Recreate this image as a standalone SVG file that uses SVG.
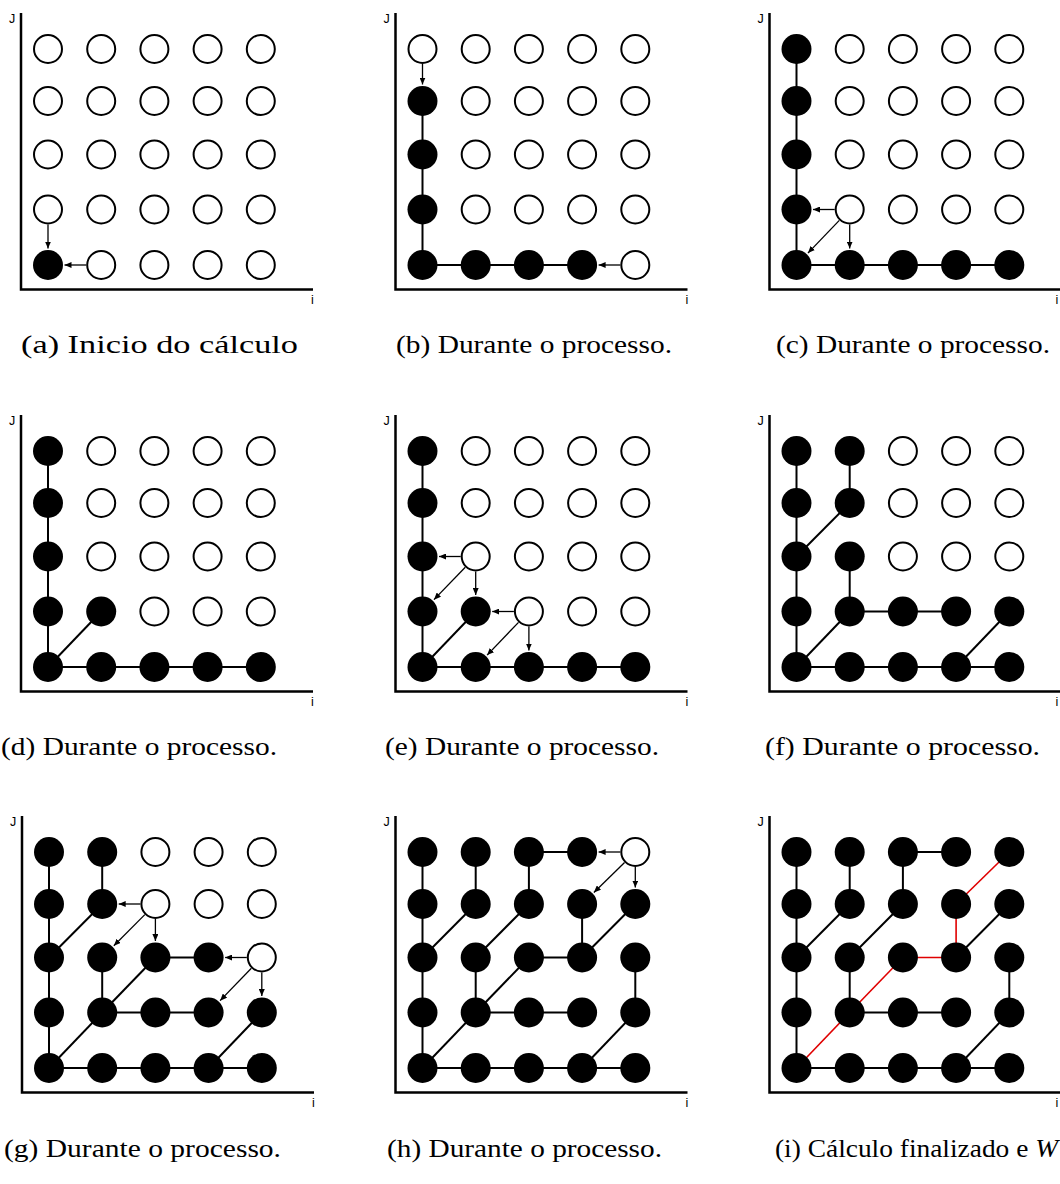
<svg xmlns="http://www.w3.org/2000/svg" xmlns:xlink="http://www.w3.org/1999/xlink" width="1060" height="1184" viewBox="0 0 1060 1184">
<defs>
<marker id="ah" markerUnits="userSpaceOnUse" markerWidth="8" markerHeight="6" refX="7" refY="3" orient="auto">
<path d="M0,0 L7,3 L0,6 z" fill="#000"/>
</marker>
<style>
.o{fill:#fff;stroke:#000;stroke-width:2}
.f{fill:#000}
.ax{fill:none;stroke:#000;stroke-width:2.5}
.e line{stroke:#000;stroke-width:2}
.e line.r{stroke:#e00000;stroke-width:1.6}
.ar line{stroke:#000;stroke-width:1.3;marker-end:url(#ah)}
.lb{font-family:"Liberation Sans",Arial,sans-serif;font-size:12.5px;fill:#000}
.cap{font-family:"Liberation Serif","Times New Roman",serif;font-size:26px;fill:#000}
</style>
</defs>
<rect width="1060" height="1184" fill="#fff"/>

<!-- Panel a -->
<g id="panel-a">
<path class="ax" d="M21,13 V289.5 H313"/>
<text class="lb" x="9" y="23">J</text><text class="lb" x="311" y="304">i</text>
<g id="a-connectors"><g class="ar">
<line x1="48" y1="224.5" x2="48" y2="248.5"/>
<line x1="86.2" y1="265" x2="64.5" y2="265"/>
</g></g>
<g id="a-c0r0"><circle class="f" cx="48" cy="265" r="15"/></g>
<g id="a-c1r0"><circle class="o" cx="101.2" cy="265" r="14"/></g>
<g id="a-c2r0"><circle class="o" cx="154.4" cy="265" r="14"/></g>
<g id="a-c3r0"><circle class="o" cx="207.6" cy="265" r="14"/></g>
<g id="a-c4r0"><circle class="o" cx="260.8" cy="265" r="14"/></g>
<g id="a-c0r1"><circle class="o" cx="48" cy="209.5" r="14"/></g>
<g id="a-c1r1"><circle class="o" cx="101.2" cy="209.5" r="14"/></g>
<g id="a-c2r1"><circle class="o" cx="154.4" cy="209.5" r="14"/></g>
<g id="a-c3r1"><circle class="o" cx="207.6" cy="209.5" r="14"/></g>
<g id="a-c4r1"><circle class="o" cx="260.8" cy="209.5" r="14"/></g>
<g id="a-c0r2"><circle class="o" cx="48" cy="154.5" r="14"/></g>
<g id="a-c1r2"><circle class="o" cx="101.2" cy="154.5" r="14"/></g>
<g id="a-c2r2"><circle class="o" cx="154.4" cy="154.5" r="14"/></g>
<g id="a-c3r2"><circle class="o" cx="207.6" cy="154.5" r="14"/></g>
<g id="a-c4r2"><circle class="o" cx="260.8" cy="154.5" r="14"/></g>
<g id="a-c0r3"><circle class="o" cx="48" cy="101" r="14"/></g>
<g id="a-c1r3"><circle class="o" cx="101.2" cy="101" r="14"/></g>
<g id="a-c2r3"><circle class="o" cx="154.4" cy="101" r="14"/></g>
<g id="a-c3r3"><circle class="o" cx="207.6" cy="101" r="14"/></g>
<g id="a-c4r3"><circle class="o" cx="260.8" cy="101" r="14"/></g>
<g id="a-c0r4"><circle class="o" cx="48" cy="49" r="14"/></g>
<g id="a-c1r4"><circle class="o" cx="101.2" cy="49" r="14"/></g>
<g id="a-c2r4"><circle class="o" cx="154.4" cy="49" r="14"/></g>
<g id="a-c3r4"><circle class="o" cx="207.6" cy="49" r="14"/></g>
<g id="a-c4r4"><circle class="o" cx="260.8" cy="49" r="14"/></g>
</g>

<!-- Panel b -->
<g id="panel-b" transform="translate(374.5,0)">
<path class="ax" d="M21,13 V289.5 H313"/>
<text class="lb" x="9" y="23">J</text><text class="lb" x="311" y="304">i</text>
<g id="b-connectors">
<g class="e">
<line x1="48" y1="265" x2="48" y2="101"/>
<line x1="48" y1="265" x2="207.6" y2="265"/>
</g>
<g class="ar">
<line x1="48" y1="64" x2="48" y2="84.5"/>
<line x1="245.8" y1="265" x2="224.1" y2="265"/>
</g></g>
<g id="b-c0r0"><circle class="f" cx="48" cy="265" r="15"/></g>
<g id="b-c1r0"><circle class="f" cx="101.2" cy="265" r="15"/></g>
<g id="b-c2r0"><circle class="f" cx="154.4" cy="265" r="15"/></g>
<g id="b-c3r0"><circle class="f" cx="207.6" cy="265" r="15"/></g>
<g id="b-c4r0"><circle class="o" cx="260.8" cy="265" r="14"/></g>
<g id="b-c0r1"><circle class="f" cx="48" cy="209.5" r="15"/></g>
<g id="b-c1r1"><circle class="o" cx="101.2" cy="209.5" r="14"/></g>
<g id="b-c2r1"><circle class="o" cx="154.4" cy="209.5" r="14"/></g>
<g id="b-c3r1"><circle class="o" cx="207.6" cy="209.5" r="14"/></g>
<g id="b-c4r1"><circle class="o" cx="260.8" cy="209.5" r="14"/></g>
<g id="b-c0r2"><circle class="f" cx="48" cy="154.5" r="15"/></g>
<g id="b-c1r2"><circle class="o" cx="101.2" cy="154.5" r="14"/></g>
<g id="b-c2r2"><circle class="o" cx="154.4" cy="154.5" r="14"/></g>
<g id="b-c3r2"><circle class="o" cx="207.6" cy="154.5" r="14"/></g>
<g id="b-c4r2"><circle class="o" cx="260.8" cy="154.5" r="14"/></g>
<g id="b-c0r3"><circle class="f" cx="48" cy="101" r="15"/></g>
<g id="b-c1r3"><circle class="o" cx="101.2" cy="101" r="14"/></g>
<g id="b-c2r3"><circle class="o" cx="154.4" cy="101" r="14"/></g>
<g id="b-c3r3"><circle class="o" cx="207.6" cy="101" r="14"/></g>
<g id="b-c4r3"><circle class="o" cx="260.8" cy="101" r="14"/></g>
<g id="b-c0r4"><circle class="o" cx="48" cy="49" r="14"/></g>
<g id="b-c1r4"><circle class="o" cx="101.2" cy="49" r="14"/></g>
<g id="b-c2r4"><circle class="o" cx="154.4" cy="49" r="14"/></g>
<g id="b-c3r4"><circle class="o" cx="207.6" cy="49" r="14"/></g>
<g id="b-c4r4"><circle class="o" cx="260.8" cy="49" r="14"/></g>
</g>

<!-- Panel c -->
<g id="panel-c" transform="translate(748.5,0)">
<path class="ax" d="M21,13 V289.5 H313"/>
<text class="lb" x="9" y="23">J</text><text class="lb" x="307" y="304">i</text>
<g id="c-connectors">
<g class="e">
<line x1="48" y1="265" x2="48" y2="49"/>
<line x1="48" y1="265" x2="260.8" y2="265"/>
</g>
<g class="ar">
<line x1="86.2" y1="209.5" x2="64.5" y2="209.5"/>
<line x1="90.82" y1="220.33" x2="59.42" y2="253.09"/>
<line x1="101.2" y1="224.5" x2="101.2" y2="248.5"/>
</g></g>
<g id="c-c0r0"><circle class="f" cx="48" cy="265" r="15"/></g>
<g id="c-c1r0"><circle class="f" cx="101.2" cy="265" r="15"/></g>
<g id="c-c2r0"><circle class="f" cx="154.4" cy="265" r="15"/></g>
<g id="c-c3r0"><circle class="f" cx="207.6" cy="265" r="15"/></g>
<g id="c-c4r0"><circle class="f" cx="260.8" cy="265" r="15"/></g>
<g id="c-c0r1"><circle class="f" cx="48" cy="209.5" r="15"/></g>
<g id="c-c1r1"><circle class="o" cx="101.2" cy="209.5" r="14"/></g>
<g id="c-c2r1"><circle class="o" cx="154.4" cy="209.5" r="14"/></g>
<g id="c-c3r1"><circle class="o" cx="207.6" cy="209.5" r="14"/></g>
<g id="c-c4r1"><circle class="o" cx="260.8" cy="209.5" r="14"/></g>
<g id="c-c0r2"><circle class="f" cx="48" cy="154.5" r="15"/></g>
<g id="c-c1r2"><circle class="o" cx="101.2" cy="154.5" r="14"/></g>
<g id="c-c2r2"><circle class="o" cx="154.4" cy="154.5" r="14"/></g>
<g id="c-c3r2"><circle class="o" cx="207.6" cy="154.5" r="14"/></g>
<g id="c-c4r2"><circle class="o" cx="260.8" cy="154.5" r="14"/></g>
<g id="c-c0r3"><circle class="f" cx="48" cy="101" r="15"/></g>
<g id="c-c1r3"><circle class="o" cx="101.2" cy="101" r="14"/></g>
<g id="c-c2r3"><circle class="o" cx="154.4" cy="101" r="14"/></g>
<g id="c-c3r3"><circle class="o" cx="207.6" cy="101" r="14"/></g>
<g id="c-c4r3"><circle class="o" cx="260.8" cy="101" r="14"/></g>
<g id="c-c0r4"><circle class="f" cx="48" cy="49" r="15"/></g>
<g id="c-c1r4"><circle class="o" cx="101.2" cy="49" r="14"/></g>
<g id="c-c2r4"><circle class="o" cx="154.4" cy="49" r="14"/></g>
<g id="c-c3r4"><circle class="o" cx="207.6" cy="49" r="14"/></g>
<g id="c-c4r4"><circle class="o" cx="260.8" cy="49" r="14"/></g>
</g>

<!-- Panel d -->
<g id="panel-d" transform="translate(0,402)">
<path class="ax" d="M21,13 V289.5 H313"/>
<text class="lb" x="9" y="23">J</text><text class="lb" x="311" y="304">i</text>
<g id="d-connectors">
<g class="e">
<line x1="48" y1="265" x2="48" y2="49"/>
<line x1="48" y1="265" x2="260.8" y2="265"/>
<line x1="48" y1="265" x2="101.2" y2="209.5"/>
</g></g>
<g id="d-c0r0"><circle class="f" cx="48" cy="265" r="15"/></g>
<g id="d-c1r0"><circle class="f" cx="101.2" cy="265" r="15"/></g>
<g id="d-c2r0"><circle class="f" cx="154.4" cy="265" r="15"/></g>
<g id="d-c3r0"><circle class="f" cx="207.6" cy="265" r="15"/></g>
<g id="d-c4r0"><circle class="f" cx="260.8" cy="265" r="15"/></g>
<g id="d-c0r1"><circle class="f" cx="48" cy="209.5" r="15"/></g>
<g id="d-c1r1"><circle class="f" cx="101.2" cy="209.5" r="15"/></g>
<g id="d-c2r1"><circle class="o" cx="154.4" cy="209.5" r="14"/></g>
<g id="d-c3r1"><circle class="o" cx="207.6" cy="209.5" r="14"/></g>
<g id="d-c4r1"><circle class="o" cx="260.8" cy="209.5" r="14"/></g>
<g id="d-c0r2"><circle class="f" cx="48" cy="154.5" r="15"/></g>
<g id="d-c1r2"><circle class="o" cx="101.2" cy="154.5" r="14"/></g>
<g id="d-c2r2"><circle class="o" cx="154.4" cy="154.5" r="14"/></g>
<g id="d-c3r2"><circle class="o" cx="207.6" cy="154.5" r="14"/></g>
<g id="d-c4r2"><circle class="o" cx="260.8" cy="154.5" r="14"/></g>
<g id="d-c0r3"><circle class="f" cx="48" cy="101" r="15"/></g>
<g id="d-c1r3"><circle class="o" cx="101.2" cy="101" r="14"/></g>
<g id="d-c2r3"><circle class="o" cx="154.4" cy="101" r="14"/></g>
<g id="d-c3r3"><circle class="o" cx="207.6" cy="101" r="14"/></g>
<g id="d-c4r3"><circle class="o" cx="260.8" cy="101" r="14"/></g>
<g id="d-c0r4"><circle class="f" cx="48" cy="49" r="15"/></g>
<g id="d-c1r4"><circle class="o" cx="101.2" cy="49" r="14"/></g>
<g id="d-c2r4"><circle class="o" cx="154.4" cy="49" r="14"/></g>
<g id="d-c3r4"><circle class="o" cx="207.6" cy="49" r="14"/></g>
<g id="d-c4r4"><circle class="o" cx="260.8" cy="49" r="14"/></g>
</g>

<!-- Panel e -->
<g id="panel-e" transform="translate(374.5,402)">
<path class="ax" d="M21,13 V289.5 H313"/>
<text class="lb" x="9" y="23">J</text><text class="lb" x="311" y="304">i</text>
<g id="e-connectors">
<g class="e">
<line x1="48" y1="265" x2="48" y2="49"/>
<line x1="48" y1="265" x2="260.8" y2="265"/>
<line x1="48" y1="265" x2="101.2" y2="209.5"/>
</g>
<g class="ar">
<line x1="86.2" y1="154.5" x2="64.5" y2="154.5"/>
<line x1="90.77" y1="165.28" x2="59.47" y2="197.64"/>
<line x1="101.2" y1="169.5" x2="101.2" y2="193"/>
<line x1="139.4" y1="209.5" x2="117.7" y2="209.5"/>
<line x1="144.02" y1="220.33" x2="112.62" y2="253.09"/>
<line x1="154.4" y1="224.5" x2="154.4" y2="248.5"/>
</g></g>
<g id="e-c0r0"><circle class="f" cx="48" cy="265" r="15"/></g>
<g id="e-c1r0"><circle class="f" cx="101.2" cy="265" r="15"/></g>
<g id="e-c2r0"><circle class="f" cx="154.4" cy="265" r="15"/></g>
<g id="e-c3r0"><circle class="f" cx="207.6" cy="265" r="15"/></g>
<g id="e-c4r0"><circle class="f" cx="260.8" cy="265" r="15"/></g>
<g id="e-c0r1"><circle class="f" cx="48" cy="209.5" r="15"/></g>
<g id="e-c1r1"><circle class="f" cx="101.2" cy="209.5" r="15"/></g>
<g id="e-c2r1"><circle class="o" cx="154.4" cy="209.5" r="14"/></g>
<g id="e-c3r1"><circle class="o" cx="207.6" cy="209.5" r="14"/></g>
<g id="e-c4r1"><circle class="o" cx="260.8" cy="209.5" r="14"/></g>
<g id="e-c0r2"><circle class="f" cx="48" cy="154.5" r="15"/></g>
<g id="e-c1r2"><circle class="o" cx="101.2" cy="154.5" r="14"/></g>
<g id="e-c2r2"><circle class="o" cx="154.4" cy="154.5" r="14"/></g>
<g id="e-c3r2"><circle class="o" cx="207.6" cy="154.5" r="14"/></g>
<g id="e-c4r2"><circle class="o" cx="260.8" cy="154.5" r="14"/></g>
<g id="e-c0r3"><circle class="f" cx="48" cy="101" r="15"/></g>
<g id="e-c1r3"><circle class="o" cx="101.2" cy="101" r="14"/></g>
<g id="e-c2r3"><circle class="o" cx="154.4" cy="101" r="14"/></g>
<g id="e-c3r3"><circle class="o" cx="207.6" cy="101" r="14"/></g>
<g id="e-c4r3"><circle class="o" cx="260.8" cy="101" r="14"/></g>
<g id="e-c0r4"><circle class="f" cx="48" cy="49" r="15"/></g>
<g id="e-c1r4"><circle class="o" cx="101.2" cy="49" r="14"/></g>
<g id="e-c2r4"><circle class="o" cx="154.4" cy="49" r="14"/></g>
<g id="e-c3r4"><circle class="o" cx="207.6" cy="49" r="14"/></g>
<g id="e-c4r4"><circle class="o" cx="260.8" cy="49" r="14"/></g>
</g>

<!-- Panel f -->
<g id="panel-f" transform="translate(748.5,402)">
<path class="ax" d="M21,13 V289.5 H313"/>
<text class="lb" x="9" y="23">J</text><text class="lb" x="307" y="304">i</text>
<g id="f-connectors">
<g class="e">
<line x1="48" y1="265" x2="48" y2="49"/>
<line x1="48" y1="265" x2="260.8" y2="265"/>
<line x1="48" y1="265" x2="101.2" y2="209.5"/>
<line x1="101.2" y1="209.5" x2="101.2" y2="154.5"/>
<line x1="101.2" y1="209.5" x2="207.6" y2="209.5"/>
<line x1="207.6" y1="265" x2="260.8" y2="209.5"/>
<line x1="48" y1="154.5" x2="101.2" y2="101"/>
<line x1="101.2" y1="101" x2="101.2" y2="49"/>
</g></g>
<g id="f-c0r0"><circle class="f" cx="48" cy="265" r="15"/></g>
<g id="f-c1r0"><circle class="f" cx="101.2" cy="265" r="15"/></g>
<g id="f-c2r0"><circle class="f" cx="154.4" cy="265" r="15"/></g>
<g id="f-c3r0"><circle class="f" cx="207.6" cy="265" r="15"/></g>
<g id="f-c4r0"><circle class="f" cx="260.8" cy="265" r="15"/></g>
<g id="f-c0r1"><circle class="f" cx="48" cy="209.5" r="15"/></g>
<g id="f-c1r1"><circle class="f" cx="101.2" cy="209.5" r="15"/></g>
<g id="f-c2r1"><circle class="f" cx="154.4" cy="209.5" r="15"/></g>
<g id="f-c3r1"><circle class="f" cx="207.6" cy="209.5" r="15"/></g>
<g id="f-c4r1"><circle class="f" cx="260.8" cy="209.5" r="15"/></g>
<g id="f-c0r2"><circle class="f" cx="48" cy="154.5" r="15"/></g>
<g id="f-c1r2"><circle class="f" cx="101.2" cy="154.5" r="15"/></g>
<g id="f-c2r2"><circle class="o" cx="154.4" cy="154.5" r="14"/></g>
<g id="f-c3r2"><circle class="o" cx="207.6" cy="154.5" r="14"/></g>
<g id="f-c4r2"><circle class="o" cx="260.8" cy="154.5" r="14"/></g>
<g id="f-c0r3"><circle class="f" cx="48" cy="101" r="15"/></g>
<g id="f-c1r3"><circle class="f" cx="101.2" cy="101" r="15"/></g>
<g id="f-c2r3"><circle class="o" cx="154.4" cy="101" r="14"/></g>
<g id="f-c3r3"><circle class="o" cx="207.6" cy="101" r="14"/></g>
<g id="f-c4r3"><circle class="o" cx="260.8" cy="101" r="14"/></g>
<g id="f-c0r4"><circle class="f" cx="48" cy="49" r="15"/></g>
<g id="f-c1r4"><circle class="f" cx="101.2" cy="49" r="15"/></g>
<g id="f-c2r4"><circle class="o" cx="154.4" cy="49" r="14"/></g>
<g id="f-c3r4"><circle class="o" cx="207.6" cy="49" r="14"/></g>
<g id="f-c4r4"><circle class="o" cx="260.8" cy="49" r="14"/></g>
</g>

<!-- Panel g -->
<g id="panel-g" transform="translate(1,803)">
<path class="ax" d="M21,13 V289.5 H313"/>
<text class="lb" x="9" y="23">J</text><text class="lb" x="311" y="304">i</text>
<g id="g-connectors">
<g class="e">
<line x1="48" y1="265" x2="48" y2="49"/>
<line x1="48" y1="265" x2="260.8" y2="265"/>
<line x1="48" y1="265" x2="101.2" y2="209.5"/>
<line x1="101.2" y1="209.5" x2="101.2" y2="154.5"/>
<line x1="101.2" y1="209.5" x2="207.6" y2="209.5"/>
<line x1="207.6" y1="265" x2="260.8" y2="209.5"/>
<line x1="48" y1="154.5" x2="101.2" y2="101"/>
<line x1="101.2" y1="101" x2="101.2" y2="49"/>
<line x1="154.4" y1="154.5" x2="207.6" y2="154.5"/>
<line x1="101.2" y1="209.5" x2="154.4" y2="154.5"/>
</g>
<g class="ar">
<line x1="139.4" y1="101" x2="117.7" y2="101"/>
<line x1="143.82" y1="111.64" x2="112.83" y2="142.8"/>
<line x1="154.4" y1="116" x2="154.4" y2="138"/>
<line x1="245.8" y1="154.5" x2="224.1" y2="154.5"/>
<line x1="250.37" y1="165.28" x2="219.07" y2="197.64"/>
<line x1="260.8" y1="169.5" x2="260.8" y2="193"/>
</g></g>
<g id="g-c0r0"><circle class="f" cx="48" cy="265" r="15"/></g>
<g id="g-c1r0"><circle class="f" cx="101.2" cy="265" r="15"/></g>
<g id="g-c2r0"><circle class="f" cx="154.4" cy="265" r="15"/></g>
<g id="g-c3r0"><circle class="f" cx="207.6" cy="265" r="15"/></g>
<g id="g-c4r0"><circle class="f" cx="260.8" cy="265" r="15"/></g>
<g id="g-c0r1"><circle class="f" cx="48" cy="209.5" r="15"/></g>
<g id="g-c1r1"><circle class="f" cx="101.2" cy="209.5" r="15"/></g>
<g id="g-c2r1"><circle class="f" cx="154.4" cy="209.5" r="15"/></g>
<g id="g-c3r1"><circle class="f" cx="207.6" cy="209.5" r="15"/></g>
<g id="g-c4r1"><circle class="f" cx="260.8" cy="209.5" r="15"/></g>
<g id="g-c0r2"><circle class="f" cx="48" cy="154.5" r="15"/></g>
<g id="g-c1r2"><circle class="f" cx="101.2" cy="154.5" r="15"/></g>
<g id="g-c2r2"><circle class="f" cx="154.4" cy="154.5" r="15"/></g>
<g id="g-c3r2"><circle class="f" cx="207.6" cy="154.5" r="15"/></g>
<g id="g-c4r2"><circle class="o" cx="260.8" cy="154.5" r="14"/></g>
<g id="g-c0r3"><circle class="f" cx="48" cy="101" r="15"/></g>
<g id="g-c1r3"><circle class="f" cx="101.2" cy="101" r="15"/></g>
<g id="g-c2r3"><circle class="o" cx="154.4" cy="101" r="14"/></g>
<g id="g-c3r3"><circle class="o" cx="207.6" cy="101" r="14"/></g>
<g id="g-c4r3"><circle class="o" cx="260.8" cy="101" r="14"/></g>
<g id="g-c0r4"><circle class="f" cx="48" cy="49" r="15"/></g>
<g id="g-c1r4"><circle class="f" cx="101.2" cy="49" r="15"/></g>
<g id="g-c2r4"><circle class="o" cx="154.4" cy="49" r="14"/></g>
<g id="g-c3r4"><circle class="o" cx="207.6" cy="49" r="14"/></g>
<g id="g-c4r4"><circle class="o" cx="260.8" cy="49" r="14"/></g>
</g>

<!-- Panel h -->
<g id="panel-h" transform="translate(374.5,803)">
<path class="ax" d="M21,13 V289.5 H313"/>
<text class="lb" x="9" y="23">J</text><text class="lb" x="311" y="304">i</text>
<g id="h-connectors">
<g class="e">
<line x1="48" y1="265" x2="48" y2="49"/>
<line x1="48" y1="265" x2="260.8" y2="265"/>
<line x1="48" y1="265" x2="101.2" y2="209.5"/>
<line x1="101.2" y1="209.5" x2="101.2" y2="154.5"/>
<line x1="101.2" y1="209.5" x2="207.6" y2="209.5"/>
<line x1="207.6" y1="265" x2="260.8" y2="209.5"/>
<line x1="48" y1="154.5" x2="101.2" y2="101"/>
<line x1="101.2" y1="101" x2="101.2" y2="49"/>
<line x1="154.4" y1="154.5" x2="207.6" y2="154.5"/>
<line x1="101.2" y1="209.5" x2="154.4" y2="154.5"/>
<line x1="154.4" y1="49" x2="207.6" y2="49"/>
<line x1="154.4" y1="49" x2="154.4" y2="101"/>
<line x1="154.4" y1="101" x2="101.2" y2="154.5"/>
<line x1="207.6" y1="101" x2="207.6" y2="154.5"/>
<line x1="260.8" y1="101" x2="207.6" y2="154.5"/>
<line x1="260.8" y1="154.5" x2="260.8" y2="209.5"/>
</g>
<g class="ar">
<line x1="245.8" y1="49" x2="224.1" y2="49"/>
<line x1="250.07" y1="59.49" x2="219.4" y2="89.47"/>
<line x1="260.8" y1="64" x2="260.8" y2="84.5"/>
</g></g>
<g id="h-c0r0"><circle class="f" cx="48" cy="265" r="15"/></g>
<g id="h-c1r0"><circle class="f" cx="101.2" cy="265" r="15"/></g>
<g id="h-c2r0"><circle class="f" cx="154.4" cy="265" r="15"/></g>
<g id="h-c3r0"><circle class="f" cx="207.6" cy="265" r="15"/></g>
<g id="h-c4r0"><circle class="f" cx="260.8" cy="265" r="15"/></g>
<g id="h-c0r1"><circle class="f" cx="48" cy="209.5" r="15"/></g>
<g id="h-c1r1"><circle class="f" cx="101.2" cy="209.5" r="15"/></g>
<g id="h-c2r1"><circle class="f" cx="154.4" cy="209.5" r="15"/></g>
<g id="h-c3r1"><circle class="f" cx="207.6" cy="209.5" r="15"/></g>
<g id="h-c4r1"><circle class="f" cx="260.8" cy="209.5" r="15"/></g>
<g id="h-c0r2"><circle class="f" cx="48" cy="154.5" r="15"/></g>
<g id="h-c1r2"><circle class="f" cx="101.2" cy="154.5" r="15"/></g>
<g id="h-c2r2"><circle class="f" cx="154.4" cy="154.5" r="15"/></g>
<g id="h-c3r2"><circle class="f" cx="207.6" cy="154.5" r="15"/></g>
<g id="h-c4r2"><circle class="f" cx="260.8" cy="154.5" r="15"/></g>
<g id="h-c0r3"><circle class="f" cx="48" cy="101" r="15"/></g>
<g id="h-c1r3"><circle class="f" cx="101.2" cy="101" r="15"/></g>
<g id="h-c2r3"><circle class="f" cx="154.4" cy="101" r="15"/></g>
<g id="h-c3r3"><circle class="f" cx="207.6" cy="101" r="15"/></g>
<g id="h-c4r3"><circle class="f" cx="260.8" cy="101" r="15"/></g>
<g id="h-c0r4"><circle class="f" cx="48" cy="49" r="15"/></g>
<g id="h-c1r4"><circle class="f" cx="101.2" cy="49" r="15"/></g>
<g id="h-c2r4"><circle class="f" cx="154.4" cy="49" r="15"/></g>
<g id="h-c3r4"><circle class="f" cx="207.6" cy="49" r="15"/></g>
<g id="h-c4r4"><circle class="o" cx="260.8" cy="49" r="14"/></g>
</g>

<!-- Panel i -->
<g id="panel-i" transform="translate(748.5,803)">
<path class="ax" d="M21,13 V289.5 H313"/>
<text class="lb" x="9" y="23">J</text><text class="lb" x="307" y="304">i</text>
<g id="i-connectors">
<g class="e">
<line x1="48" y1="265" x2="48" y2="49"/>
<line x1="48" y1="265" x2="260.8" y2="265"/>
<line x1="101.2" y1="209.5" x2="101.2" y2="154.5"/>
<line x1="101.2" y1="209.5" x2="207.6" y2="209.5"/>
<line x1="207.6" y1="265" x2="260.8" y2="209.5"/>
<line x1="48" y1="154.5" x2="101.2" y2="101"/>
<line x1="101.2" y1="101" x2="101.2" y2="49"/>
<line x1="154.4" y1="49" x2="207.6" y2="49"/>
<line x1="154.4" y1="49" x2="154.4" y2="101"/>
<line x1="154.4" y1="101" x2="101.2" y2="154.5"/>
<line x1="260.8" y1="101" x2="207.6" y2="154.5"/>
<line x1="260.8" y1="154.5" x2="260.8" y2="209.5"/>
<line class="r" x1="48" y1="265" x2="101.2" y2="209.5"/>
<line class="r" x1="101.2" y1="209.5" x2="154.4" y2="154.5"/>
<line class="r" x1="154.4" y1="154.5" x2="207.6" y2="154.5"/>
<line class="r" x1="207.6" y1="154.5" x2="207.6" y2="101"/>
<line class="r" x1="207.6" y1="101" x2="260.8" y2="49"/>
</g></g>
<g id="i-c0r0"><circle class="f" cx="48" cy="265" r="15"/></g>
<g id="i-c1r0"><circle class="f" cx="101.2" cy="265" r="15"/></g>
<g id="i-c2r0"><circle class="f" cx="154.4" cy="265" r="15"/></g>
<g id="i-c3r0"><circle class="f" cx="207.6" cy="265" r="15"/></g>
<g id="i-c4r0"><circle class="f" cx="260.8" cy="265" r="15"/></g>
<g id="i-c0r1"><circle class="f" cx="48" cy="209.5" r="15"/></g>
<g id="i-c1r1"><circle class="f" cx="101.2" cy="209.5" r="15"/></g>
<g id="i-c2r1"><circle class="f" cx="154.4" cy="209.5" r="15"/></g>
<g id="i-c3r1"><circle class="f" cx="207.6" cy="209.5" r="15"/></g>
<g id="i-c4r1"><circle class="f" cx="260.8" cy="209.5" r="15"/></g>
<g id="i-c0r2"><circle class="f" cx="48" cy="154.5" r="15"/></g>
<g id="i-c1r2"><circle class="f" cx="101.2" cy="154.5" r="15"/></g>
<g id="i-c2r2"><circle class="f" cx="154.4" cy="154.5" r="15"/></g>
<g id="i-c3r2"><circle class="f" cx="207.6" cy="154.5" r="15"/></g>
<g id="i-c4r2"><circle class="f" cx="260.8" cy="154.5" r="15"/></g>
<g id="i-c0r3"><circle class="f" cx="48" cy="101" r="15"/></g>
<g id="i-c1r3"><circle class="f" cx="101.2" cy="101" r="15"/></g>
<g id="i-c2r3"><circle class="f" cx="154.4" cy="101" r="15"/></g>
<g id="i-c3r3"><circle class="f" cx="207.6" cy="101" r="15"/></g>
<g id="i-c4r3"><circle class="f" cx="260.8" cy="101" r="15"/></g>
<g id="i-c0r4"><circle class="f" cx="48" cy="49" r="15"/></g>
<g id="i-c1r4"><circle class="f" cx="101.2" cy="49" r="15"/></g>
<g id="i-c2r4"><circle class="f" cx="154.4" cy="49" r="15"/></g>
<g id="i-c3r4"><circle class="f" cx="207.6" cy="49" r="15"/></g>
<g id="i-c4r4"><circle class="f" cx="260.8" cy="49" r="15"/></g>
</g>

<!-- Captions -->
<g id="captions">
<text class="cap" x="21" y="353" textLength="277" lengthAdjust="spacingAndGlyphs">(a) Inicio do cálculo</text>
<text class="cap" x="396" y="353" textLength="276" lengthAdjust="spacingAndGlyphs">(b) Durante o processo.</text>
<text class="cap" x="776" y="353" textLength="274" lengthAdjust="spacingAndGlyphs">(c) Durante o processo.</text>
<text class="cap" x="1" y="755" textLength="276" lengthAdjust="spacingAndGlyphs">(d) Durante o processo.</text>
<text class="cap" x="385" y="755" textLength="274" lengthAdjust="spacingAndGlyphs">(e) Durante o processo.</text>
<text class="cap" x="765" y="755" textLength="275" lengthAdjust="spacingAndGlyphs">(f) Durante o processo.</text>
<text class="cap" x="4" y="1157" textLength="277" lengthAdjust="spacingAndGlyphs">(g) Durante o processo.</text>
<text class="cap" x="387" y="1157" textLength="275" lengthAdjust="spacingAndGlyphs">(h) Durante o processo.</text>
<text class="cap" x="775" y="1157" textLength="283" lengthAdjust="spacingAndGlyphs">(i) Cálculo finalizado e <tspan font-style="italic">W</tspan></text>
</g>
</svg>
